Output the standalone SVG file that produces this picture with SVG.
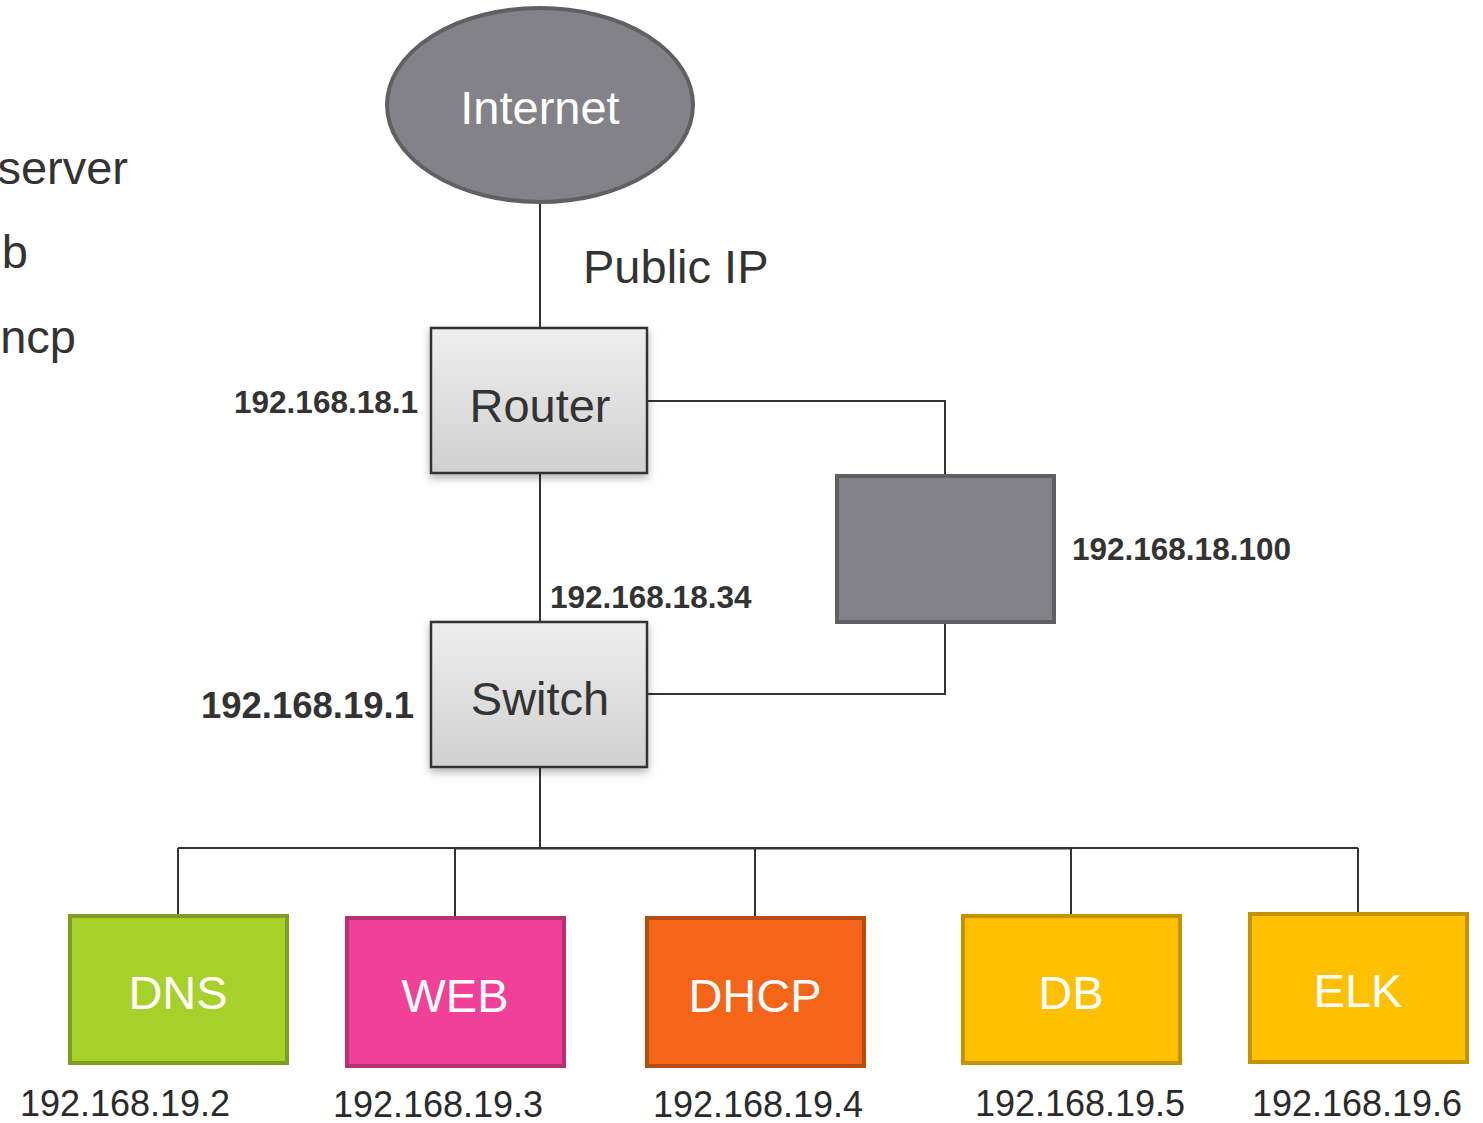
<svg xmlns="http://www.w3.org/2000/svg" width="1483" height="1123" viewBox="0 0 1483 1123">
<defs>
<linearGradient id="gbox" x1="0" y1="0" x2="0" y2="1">
<stop offset="0" stop-color="#eeeeee"/>
<stop offset="1" stop-color="#d0d0d0"/>
</linearGradient>
<filter id="sh" x="-20%" y="-20%" width="140%" height="150%">
<feDropShadow dx="0" dy="4" stdDeviation="4" flood-color="#000" flood-opacity="0.3"/>
</filter>
</defs>
<style>
text{font-family:"Liberation Sans",Arial,sans-serif}
.lbl{font-size:47px;fill:#333}
.w{font-size:47px;fill:#fff;text-anchor:middle}
.ip{font-size:31.5px;font-weight:bold;fill:#333}
.ipb{font-size:36px;fill:#2a2a2a;text-anchor:middle}
.con{fill:none;stroke:#333;stroke-width:2}
.dev{fill:url(#gbox);stroke:#333;stroke-width:2.5;filter:url(#sh)}
.dark{fill:#838288;stroke:#5f5f64;stroke-width:4}
.srv{stroke-width:4}
</style>
<g id="side-text">
<text class="lbl" x="128" y="184" text-anchor="end">server</text>
<text class="lbl" x="28" y="268" text-anchor="end">b</text>
<text class="lbl" x="76" y="353" text-anchor="end">ncp</text>
<text x="583" y="283" class="lbl">Public IP</text>
</g>
<g id="connectors">
<line class="con" x1="540" y1="202" x2="540" y2="328"/>
<line class="con" x1="540" y1="473" x2="540" y2="622"/>
<polyline class="con" points="647,401 945,401 945,475"/>
<polyline class="con" points="647,694 945,694 945,622"/>
<line class="con" x1="540" y1="767" x2="540" y2="848" stroke-width="2.5"/>
<line class="con" x1="178" y1="848" x2="1358" y2="848"/>
<line class="con" x1="455" y1="848.5" x2="1071" y2="848.5" stroke-width="3"/>
<line class="con" x1="178" y1="848" x2="178" y2="915"/>
<line class="con" x1="455" y1="848" x2="455" y2="917"/>
<line class="con" x1="755" y1="848" x2="755" y2="917"/>
<line class="con" x1="1071" y1="848" x2="1071" y2="915"/>
<line class="con" x1="1358" y1="848" x2="1358" y2="913"/>
</g>
<g id="internet">
<ellipse class="dark" cx="540" cy="105" rx="153" ry="97"/>
<text class="w" x="540" y="124">Internet</text>
</g>
<g id="router">
<rect class="dev" x="431" y="328" width="216" height="145"/>
<text class="lbl" x="540" y="422" text-anchor="middle">Router</text>
<text class="ip" x="418" y="413" text-anchor="end">192.168.18.1</text>
</g>
<g id="switch">
<rect class="dev" x="431" y="622" width="216" height="145"/>
<text class="lbl" x="540" y="715" text-anchor="middle">Switch</text>
<text class="ip" x="550" y="608">192.168.18.34</text>
<text x="414" y="718" text-anchor="end" style="font-size:36.5px;font-weight:bold;fill:#333">192.168.19.1</text>
</g>
<g id="host">
<rect class="dark" x="837" y="476" width="217" height="146"/>
<text class="ip" x="1072" y="560">192.168.18.100</text>
</g>
<g id="dns">
<rect class="srv" x="70" y="916" width="217" height="147" fill="#a6d12a" stroke="#7f9d1f"/>
<text class="w" x="178" y="1009">DNS</text>
<text class="ipb" x="125" y="1116">192.168.19.2</text>
</g>
<g id="web">
<rect class="srv" x="347" y="918" width="217" height="148" fill="#f23f97" stroke="#b73070"/>
<text class="w" x="455" y="1012">WEB</text>
<text class="ipb" x="438" y="1117">192.168.19.3</text>
</g>
<g id="dhcp">
<rect class="srv" x="647" y="918" width="217" height="148" fill="#f46519" stroke="#b84c12"/>
<text class="w" x="755" y="1012">DHCP</text>
<text class="ipb" x="758" y="1117">192.168.19.4</text>
</g>
<g id="db">
<rect class="srv" x="963" y="916" width="217" height="147" fill="#fec000" stroke="#c39400"/>
<text class="w" x="1071" y="1009">DB</text>
<text class="ipb" x="1080" y="1116">192.168.19.5</text>
</g>
<g id="elk">
<rect class="srv" x="1250" y="914" width="217" height="148" fill="#fec000" stroke="#c39400"/>
<text class="w" x="1358" y="1007">ELK</text>
<text class="ipb" x="1357" y="1116">192.168.19.6</text>
</g>
</svg>
